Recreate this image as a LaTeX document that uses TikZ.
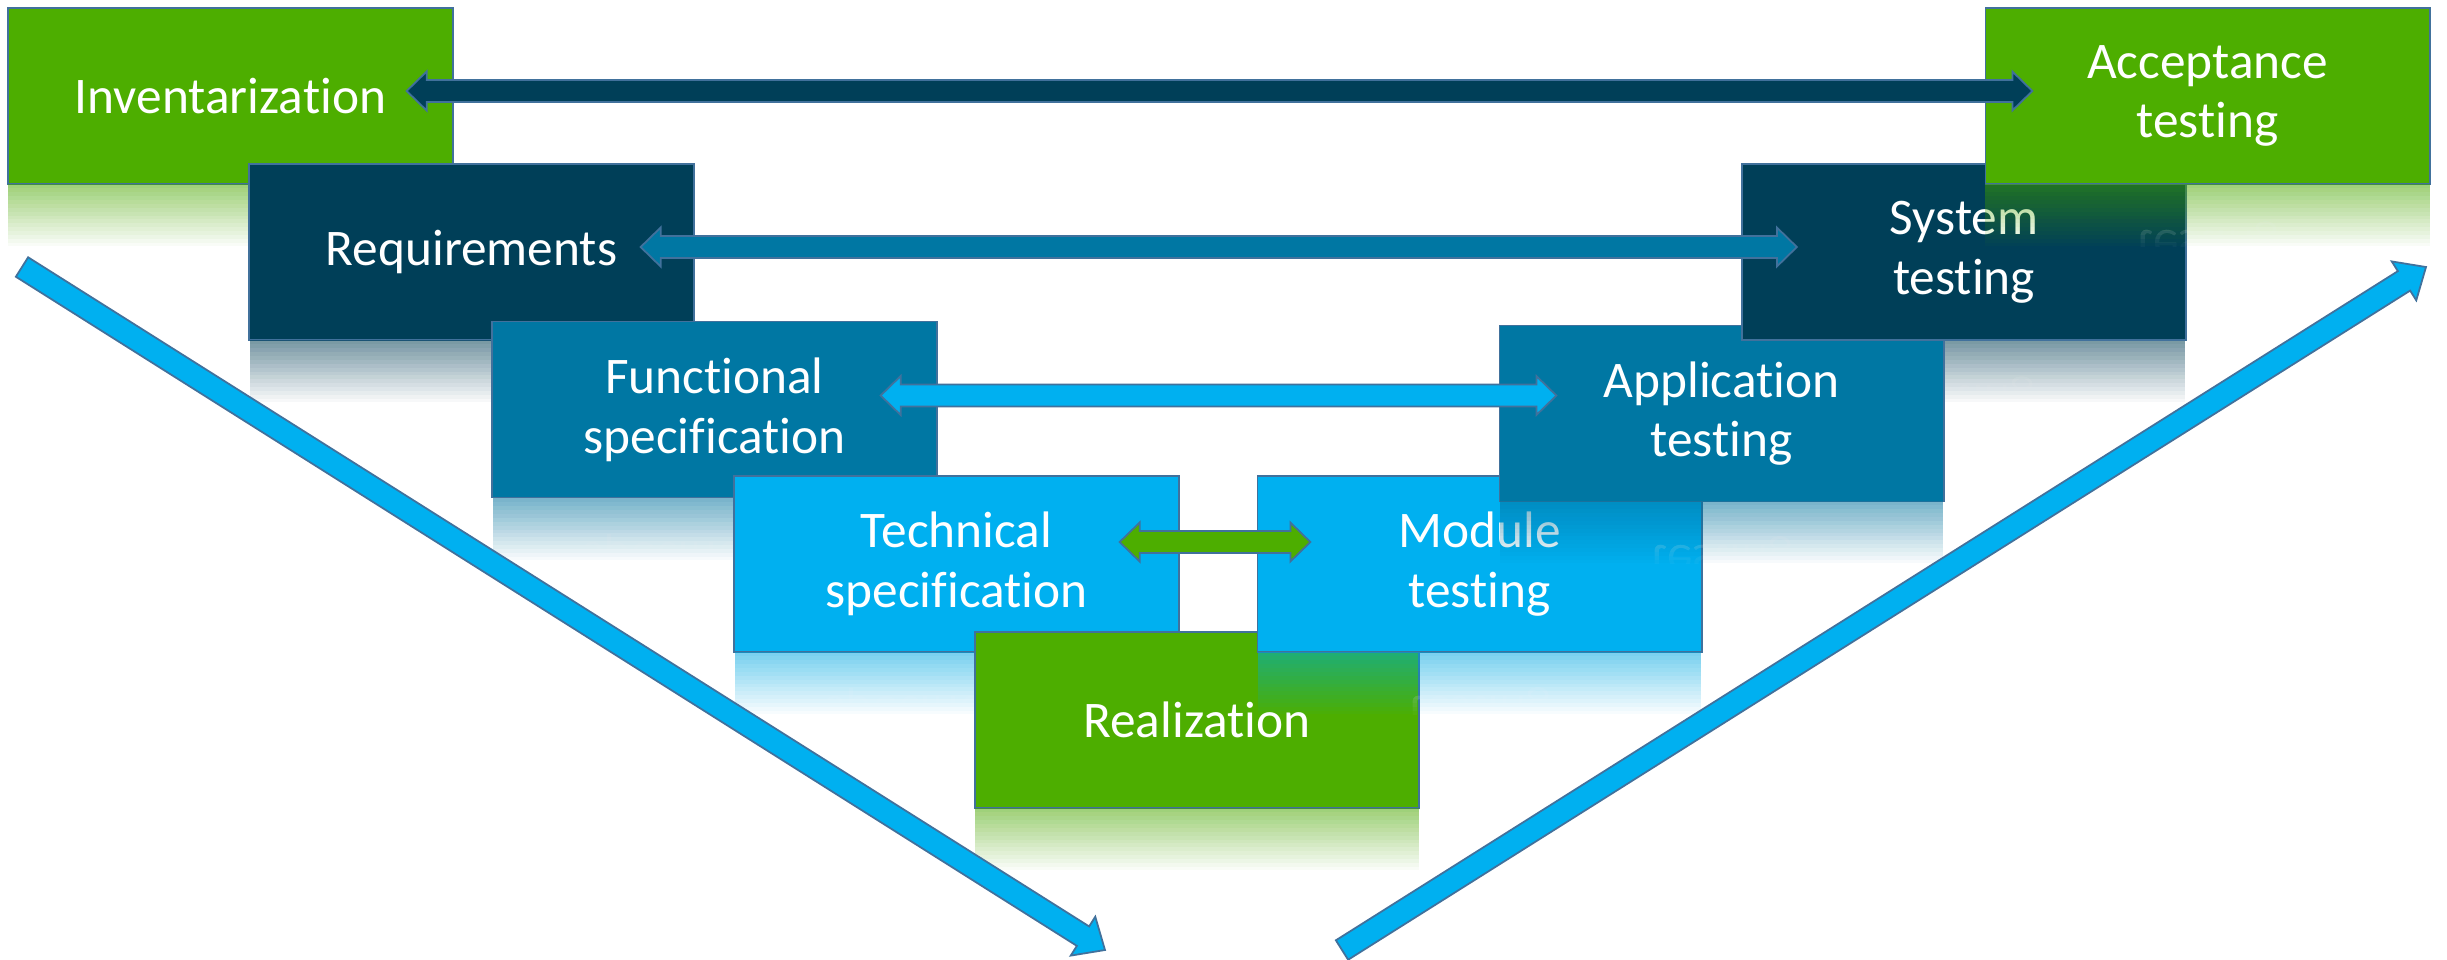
\documentclass[tikz,border=0pt]{standalone}
\usepackage{fontspec}
\setmainfont{Carlito}[Ligatures=NoCommon]
\usetikzlibrary{calc}
\definecolor{cgreen}{HTML}{4DAE00}
\definecolor{cnavy}{HTML}{003F58}
\definecolor{cmid}{HTML}{0077A3}
\definecolor{clight}{HTML}{00B0F0}
\definecolor{cedge}{HTML}{41719C}
\tikzset{
  boxfont/.style={font=\fontsize{14.6}{17}\selectfont},
  box/.style={boxfont, minimum width=4.44cm, minimum height=1.76cm, inner sep=0pt, outer sep=0pt,
    draw=cedge, line width=0.5pt, text=white, align=center},
  blockarrow/.style={fill=#1, draw=cedge, line width=0.5pt, line join=miter},
}
% reflection: x1, x2, ybottom, colour, text
\newcommand\refl[5]{%
  \foreach \k in {0,...,15}{%
    \pgfmathsetmacro\aj{0.5*(1-\k/16)}%
    \pgfmathsetmacro\ajn{0.5*(1-(\k+1)/16)}%
    \pgfmathsetmacro\bk{1-(1-\aj)/(1-\ajn)}%
    \begin{scope}
      \clip (#1,#3) rectangle (#2,{#3+62*(\k+1)/16});
      \fill[#4, opacity=\bk] (#1,#3) rectangle (#2,{#3+62});
      \begin{scope}[shift={({(#1+#2)/2},{#3+88})}]
        \node[boxfont, text=white, text opacity=\bk, align=center, transform shape, yscale=-1, inner sep=0pt] at (0,0) {#5};
      \end{scope}
    \end{scope}
  }}
% horizontal double headed block arrow, left tip #2, right tip #3 (units: px, y down)
\newcommand\dblarrow[3]{%
  \path[blockarrow=#1] (#2) -- ($(#2)+(20,-19.5)$) -- ($(#2)+(20,-11)$)
    -- ($(#3)+(-20,-11)$) -- ($(#3)+(-20,-19.5)$) -- (#3)
    -- ($(#3)+(-20,19.5)$) -- ($(#3)+(-20,11)$)
    -- ($(#2)+(20,11)$) -- ($(#2)+(20,19.5)$) -- cycle;}
% single headed block arrow: tail #2, tip #3, half shaft vector (#4,#5), half head vector (#6,#7), head length vector (#8,#9)
\newcommand\bigarrow[9]{%
  \path[blockarrow=#1] ($(#2)+(#4,#5)$) -- ($(#3)-(#8,#9)+(#4,#5)$)
    -- ($(#3)-(#8,#9)+(#6,#7)$) -- (#3) -- ($(#3)-(#8,#9)-(#6,#7)$)
    -- ($(#3)-(#8,#9)-(#4,#5)$) -- ($(#2)-(#4,#5)$) -- cycle;}
\begin{document}
\begin{tikzpicture}[x=0.01cm, y=-0.01cm]
\fill[white] (0,0) rectangle (2447,959);
\useasboundingbox (0,0) rectangle (2447,959);

% left branch
\node[box, fill=cgreen] (inv) at (230.5,96) {Inventarization};
\refl{8}{453}{184}{cgreen}{Inventarization}
\node[box, fill=cnavy] (req) at (471.5,252) {Requirements};
\refl{250}{693}{340}{cnavy}{Requirements}
\node[box, fill=cmid] (func) at (714.5,409.5) {Functional\\specification};
\refl{493}{936}{498}{cmid}{Functional\\specification}
\node[box, fill=clight] (tech) at (956.5,564) {Technical\\specification};
\refl{735}{1178}{652}{clight}{Technical\\specification}
\node[box, fill=cgreen] (real) at (1197,720) {Realization};
\refl{975}{1419}{808}{cgreen}{Realization}

% right branch
\node[box, fill=clight] (mod) at (1479.5,564) {Module\\testing};
\refl{1258}{1701}{652}{clight}{Module\\testing}
\refl{1743}{2185}{340}{cnavy}{System\\testing}
\node[box, fill=cmid] (app) at (1721.5,413.5) {Application\\testing};
\refl{1500}{1943}{501}{cmid}{Application\\testing}
\node[box, fill=cnavy] (sys) at (1964,252) {System\\testing};
\node[box, fill=cgreen] (acc) at (2207.5,96) {Acceptance\\testing};
\refl{1985}{2430}{184}{cgreen}{Acceptance\\testing}

% horizontal double arrows
\coordinate (n1) at ($(inv.east)+(-46,-5)$);
\coordinate (n2) at ($(acc.west)+(47,-5)$);
\dblarrow{cnavy}{n1}{n2}
\coordinate (m1) at ($(req.east)+(-53,-5)$);
\coordinate (m2) at ($(sys.west)+(55,-5)$);
\dblarrow{cmid}{m1}{m2}
\coordinate (l1) at ($(func.east)+(-56,-14)$);
\coordinate (l2) at ($(app.west)+(57,-18)$);
\dblarrow{clight}{l1}{l2}
\coordinate (g1) at ($(tech.east)+(-59,-22)$);
\coordinate (g2) at ($(mod.west)+(53,-22)$);
\dblarrow{cgreen}{g1}{g2}

% big diagonal arrows
\coordinate (da1) at (22,267);
\coordinate (da2) at (1105,950);
\bigarrow{clight}{da1}{da2}{-6.13}{9.73}{-12.27}{19.45}{21.99}{13.87}
\coordinate (ua1) at (1342,950);
\coordinate (ua2) at (2426,267);
\bigarrow{clight}{ua1}{ua2}{6.13}{9.73}{12.26}{19.46}{22.0}{-13.86}
\end{tikzpicture}
\end{document}
